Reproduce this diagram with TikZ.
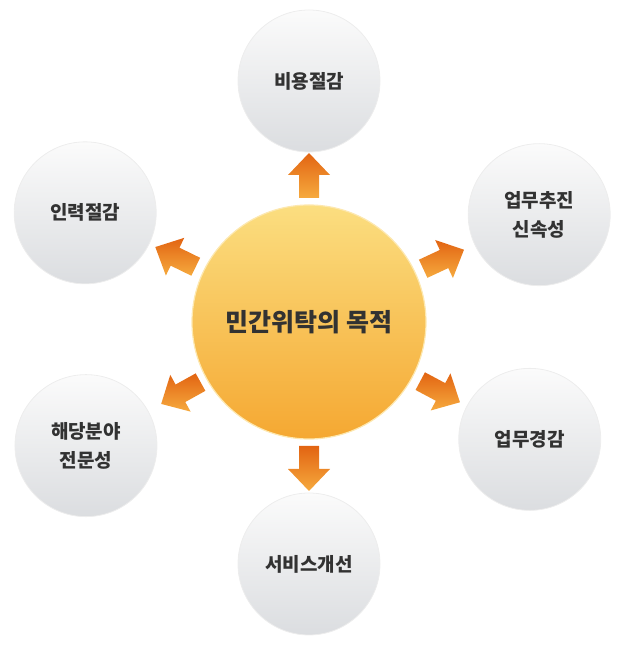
\documentclass[tikz,border=0pt]{standalone}
\usepackage{fontspec}
\newfontfamily\krfont{Noto Sans CJK KR}
\usetikzlibrary{calc,positioning}
\definecolor{sunlight}{RGB}{251,222,128}
\definecolor{sundeep}{RGB}{245,168,50}
\definecolor{sunrim}{RGB}{253,232,176}
\definecolor{orbtop}{RGB}{251,251,251}
\definecolor{orbbot}{RGB}{219,221,224}
\definecolor{arrowdark}{RGB}{226,100,18}
\definecolor{arrowlight}{RGB}{246,170,62}
\definecolor{labelgray}{RGB}{50,50,50}

% fat arrow at point #1 pointing along angle #2
\newcommand{\blockarrow}[2]{%
  \shade[top color=arrowdark,bottom color=arrowlight]
    ($(#1)+(#2:-22)+(#2+90:10)$) -- ($(#1)+(#2:1)+(#2+90:10)$) --
    ($(#1)+(#2:1)+(#2+90:21)$) -- ($(#1)+(#2:23)$) --
    ($(#1)+(#2:1)+(#2-90:21)$) -- ($(#1)+(#2:1)+(#2-90:10)$) --
    ($(#1)+(#2:-22)+(#2-90:10)$) -- cycle;}

\begin{document}
\begin{tikzpicture}[x=1pt,y=1pt,
   orb/.style={circle,minimum size=142pt,inner sep=0pt,draw=black!7,line width=0.8pt,
               top color=orbtop,bottom color=orbbot,text=labelgray,align=center,
               font=\krfont\bfseries\fontsize{19}{29}\selectfont},
   sun/.style={circle,minimum size=234pt,inner sep=0pt,draw=sunrim,line width=1.2pt,
               top color=sunlight,bottom color=sundeep,text=labelgray,
               font=\krfont\bfseries\fontsize{25}{30}\selectfont}]
  \useasboundingbox (0,0) rectangle (620,646);
  \node[sun] (goal) at (309,324) {민간위탁의 목적};

  \node[orb] (cost) at ($(goal)+(90:241)$) {비용절감};
  \node[orb] (speed) at ($(goal)+(25:254)$) {업무추진\\신속성};
  \node[orb] (load) at ($(goal)+(-28:250)$) {업무경감};
  \node[orb] (service) at ($(goal)+(-90:242)$) {서비스개선};
  \node[orb] (expert) at ($(goal)+(209:255)$) {해당분야\\전문성};
  \node[orb] (staff) at ($(goal)+(154:249)$) {인력절감};

  \coordinate (a1) at ($(goal)!146pt!(cost)$);
  \coordinate (a2) at ($(goal)!148pt!(speed)$);
  \coordinate (a3) at ($(goal)!148pt!(load)$);
  \coordinate (a4) at ($(goal)!146pt!(service)$);
  \coordinate (a5) at ($(goal)!146pt!(expert)$);
  \coordinate (a6) at ($(goal)!148pt!(staff)$);
  \blockarrow{a1}{90}
  \blockarrow{a2}{25}
  \blockarrow{a3}{-28}
  \blockarrow{a4}{-90}
  \blockarrow{a5}{209}
  \blockarrow{a6}{154}
\end{tikzpicture}
\end{document}
